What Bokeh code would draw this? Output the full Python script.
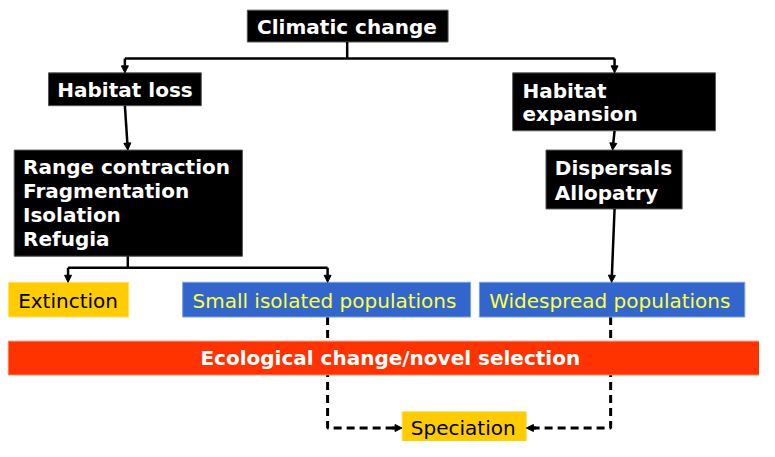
from bokeh.plotting import figure
from bokeh.models import Range1d, Arrow, NormalHead
from bokeh.core.properties import value
from bokeh.embed import file_html
from bokeh.resources import INLINE

# ---- diagram content ----
node_names = ["climate", "loss", "range", "expansion", "dispersal",
              "extinction", "small", "widespread", "ecology", "speciation"]
node_lines = [
    ["Climatic change"],
    ["Habitat loss"],
    ["Range contraction", "Fragmentation", "Isolation", "Refugia"],
    ["Habitat", "expansion"],
    ["Dispersals", "Allopatry"],
    ["Extinction"],
    ["Small isolated populations"],
    ["Widespread populations"],
    ["Ecological change/novel selection"],
    ["Speciation"],
]
# box extents (reference pixel coordinates, y downward)
node_left = [252, 49, 14, 523, 557, 8, 186, 489, 8, 410]
node_right = [457, 205, 247, 730, 696, 131, 480, 760, 790, 537]
node_top = [10, 75, 155, 75, 155, 292, 292, 292, 353, 426]
node_bottom = [43, 109, 265, 135, 216, 328, 328, 328, 388, 462]
node_fill = ["#000000", "#000000", "#000000", "#000000", "#000000",
             "#FFCC00", "#3366CC", "#3366CC", "#FF3300", "#FFCC00"]
node_border = ["#555555", "#555555", "#555555", "#555555", "#555555",
               "#FFE27A", "#7F9FE0", "#7F9FE0", "#FF7A55", "#FFE27A"]
node_text_color = ["white", "white", "white", "white", "white",
                   "black", "#FFFF40", "#FFFF40", "white", "black"]
node_bold = [True, True, True, True, True, False, False, False, True, False]
node_text_x = [262, 58, 23, 533, 566, 18, 196, 499, 398, 419]
node_text_y = [[27], [92.5], [172.5, 197.5, 222.5, 247.5], [94, 118],
               [173.5, 199.5], [311], [311], [311], [370], [443]]
node_align = ["left"] * 8 + ["center", "left"]

# solid connectors: plain segments
seg_x0 = [354, 127, 130, 69]
seg_y0 = [43, 60, 265, 277]
seg_x1 = [354, 627, 130, 334]
seg_y1 = [60, 60, 277, 277]
# solid arrows
arr_x0 = [127, 627, 127, 627, 69, 334, 627]
arr_y0 = [60, 60, 109, 135, 277, 277, 216]
arr_x1 = [127, 627, 130, 625, 69, 334, 624]
arr_y1 = [75, 75, 155, 155, 292, 292, 292]
# dashed paths into speciation
dash_paths_x = [[334, 334, 404], [623, 623, 543]]
dash_paths_y = [[328, 443, 443], [328, 443, 443]]
dash_head_x0 = [400, 547]
dash_head_x1 = [410, 537]
dash_head_y = [443, 443]

p = figure(width=759, height=441, x_range=Range1d(0, 775), y_range=Range1d(457, 0),
           output_backend="svg", toolbar_location=None, min_border=0,
           x_axis_location=None, y_axis_location=None)
p.grid.visible = False
p.outline_line_color = None
p.background_fill_color = "white"
p.border_fill_color = "white"

# dashed lines (below the red bar)
for xs, ys in zip(dash_paths_x, dash_paths_y):
    p.line(xs, ys, line_color="black", line_width=3, line_dash="8 5")

# boxes
p.quad(left=node_left, right=node_right, top=node_top, bottom=node_bottom,
       fill_color=node_fill, line_color=node_border, line_width=1)

# solid segments
p.segment(x0=seg_x0, y0=seg_y0, x1=seg_x1, y1=seg_y1, line_color="black", line_width=2.5)

for x0, y0, x1, y1 in zip(arr_x0, arr_y0, arr_x1, arr_y1):
    p.add_layout(Arrow(end=NormalHead(size=7, fill_color="black", line_color="black", line_width=1),
                       x_start=x0, y_start=y0, x_end=x1, y_end=y1,
                       line_color="black", line_width=2.5))
for x0, x1, y in zip(dash_head_x0, dash_head_x1, dash_head_y):
    p.add_layout(Arrow(end=NormalHead(size=7, fill_color="black", line_color="black", line_width=1),
                       x_start=x0, y_start=y, x_end=x1, y_end=y,
                       line_color="black", line_width=3))

# texts
for lines, tx, tys, col, bold, al in zip(node_lines, node_text_x, node_text_y,
                                         node_text_color, node_bold, node_align):
    p.text(x=[tx] * len(lines), y=tys, text=lines,
           text_font=value("DejaVu Sans"), text_font_size="20px",
           text_font_style="bold" if bold else "normal",
           text_color=col, text_align=al, text_baseline="middle")

open("out.html", "w").write(file_html(p, INLINE))
